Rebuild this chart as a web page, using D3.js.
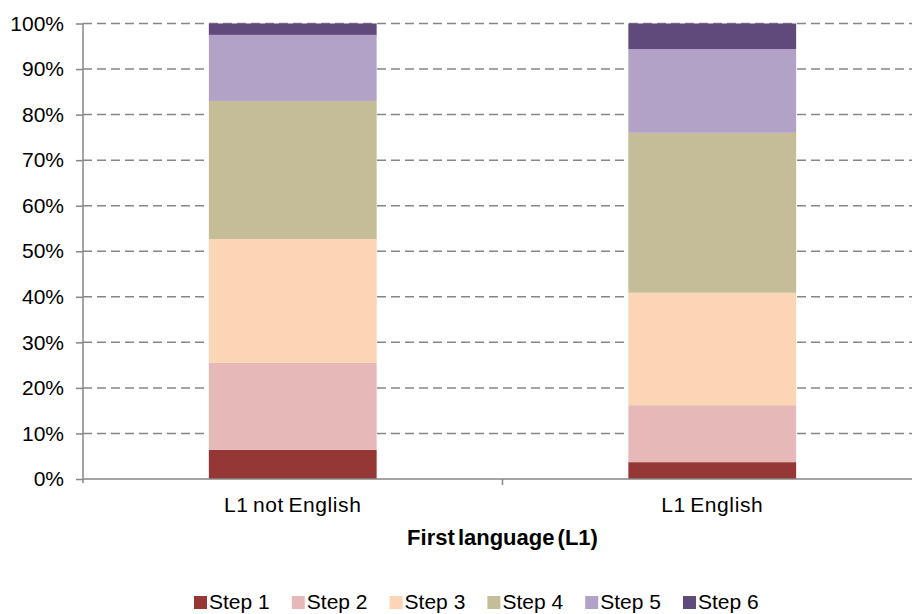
<!DOCTYPE html>
<html lang="en">
    <head>
        <meta charset="utf-8">
        <title>First language stacked bars</title>
        <script type="text/javascript" src="https://d3js.org/d3.v7.min.js"></script>
        <style type="text/css">
            body { margin: 0; background: #fff; }
            text { font-family: "Liberation Sans", Arial, sans-serif; fill: #000; }
        </style>
    </head>
    <body>
        <script type="text/javascript">

                const width = 912;
                const height = 614;
                const plotLeft = 83, plotRight = 922, plotTop = 23.5, plotBottom = 479;

                // data (percent of group)
                const categories = ["L1 not English", "L1 English"];
                const steps = ["Step 1", "Step 2", "Step 3", "Step 4", "Step 5", "Step 6"];
                const step1 = [6.4, 3.7];
                const step2 = [19.1, 12.5];
                const step3 = [27.2, 24.7];
                const step4 = [30.3, 35.1];
                const step5 = [14.5, 18.4];
                const step6 = [2.5, 5.6];
                const yTicks = [0, 10, 20, 30, 40, 50, 60, 70, 80, 90, 100];

                const colors = ["#953735", "#E6B9B8", "#FCD5B5", "#C4BD97", "#B3A2C7", "#604A7B"];

                const seriesValues = [step1, step2, step3, step4, step5, step6];
                const table = categories.map((c, i) => {
                    const row = { category: c };
                    steps.forEach((s, j) => row[s] = seriesValues[j][i]);
                    return row;
                });
                const stacked = d3.stack().keys(steps)(table);

                const xScale = d3.scaleBand()
                                .domain(categories)
                                .range([plotLeft, plotRight])
                                .paddingInner(0.6)
                                .paddingOuter(0.3);

                const yScale = d3.scaleLinear()
                                .domain([0, 100])
                                .range([plotBottom, plotTop]);

                const color = d3.scaleOrdinal().domain(steps).range(colors);

                const svg = d3.select("body")
                            .append("svg")
                            .attr("width", width)
                            .attr("height", height);

                // dashed gridlines
                svg.append("g")
                    .selectAll("line")
                    .data(yTicks.filter(d => d > 0))
                    .enter()
                    .append("line")
                    .attr("x1", plotLeft)
                    .attr("x2", plotRight)
                    .attr("y1", d => yScale(d))
                    .attr("y2", d => yScale(d))
                    .attr("stroke", "#868686")
                    .attr("stroke-width", 1.5)
                    .attr("stroke-dasharray", "9,5");

                // stacked bars
                svg.append("g")
                    .selectAll("g")
                    .data(stacked)
                    .enter()
                    .append("g")
                    .attr("fill", d => color(d.key))
                    .selectAll("rect")
                    .data(d => d)
                    .enter()
                    .append("rect")
                    .attr("x", d => xScale(d.data.category))
                    .attr("y", d => yScale(d[1]))
                    .attr("width", xScale.bandwidth())
                    .attr("height", d => yScale(d[0]) - yScale(d[1]));

                // left axis
                const leftAxis = d3.axisLeft(yScale)
                                   .tickValues(yTicks)
                                   .tickFormat(d => d + "%")
                                   .tickSize(7)
                                   .tickSizeOuter(0)
                                   .tickPadding(12);
                const gy = svg.append("g")
                    .attr("transform", "translate(" + plotLeft + ",0)")
                    .call(leftAxis);
                gy.select(".domain").attr("stroke", "#868686").attr("stroke-width", 1.5)
                    .attr("d", "M0," + plotTop + "V" + (plotBottom + 4));
                gy.selectAll(".tick line").attr("stroke", "#868686").attr("stroke-width", 1.5);
                gy.selectAll(".tick text")
                    .attr("font-family", "Liberation Sans, Arial, sans-serif")
                    .attr("font-size", "21px")
                    .attr("fill", "#000");

                // bottom axis
                svg.append("line")
                    .attr("x1", plotLeft).attr("x2", plotRight)
                    .attr("y1", plotBottom).attr("y2", plotBottom)
                    .attr("stroke", "#868686").attr("stroke-width", 1.5);
                svg.append("g")
                    .selectAll("line")
                    .data(categories.slice(1))
                    .enter()
                    .append("line")
                    .attr("x1", d => xScale(d) - xScale.step() * xScale.paddingInner() / 2)
                    .attr("x2", d => xScale(d) - xScale.step() * xScale.paddingInner() / 2)
                    .attr("y1", plotBottom).attr("y2", plotBottom + 6)
                    .attr("stroke", "#868686").attr("stroke-width", 1.5);

                svg.append("g")
                    .selectAll("text")
                    .data(categories)
                    .enter()
                    .append("text")
                    .text(d => d)
                    .attr("x", d => xScale(d) + xScale.bandwidth() / 2)
                    .attr("y", 512)
                    .attr("font-size", "21px")
                    .attr("letter-spacing", "0.6px")
                    .attr("word-spacing", "-2px")
                    .attr("text-anchor", "middle");

                // axis title
                svg.append("text")
                    .text("First language (L1)")
                    .attr("x", (plotLeft + plotRight) / 2)
                    .attr("y", 545)
                    .attr("font-size", "22px")
                    .attr("font-weight", "bold")
                    .attr("word-spacing", "-3px")
                    .attr("text-anchor", "middle");

                // legend
                const legend = svg.append("g")
                    .selectAll("g")
                    .data(steps)
                    .enter()
                    .append("g")
                    .attr("transform", (d, i) => "translate(" + (194 + i * 97.8) + ",596)");
                legend.append("rect")
                    .attr("width", 13)
                    .attr("height", 13)
                    .attr("fill", d => color(d));
                legend.append("text")
                    .text(d => d)
                    .attr("x", 15)
                    .attr("y", 13)
                    .attr("font-size", "21px");

        </script>
    </body>
</html>
